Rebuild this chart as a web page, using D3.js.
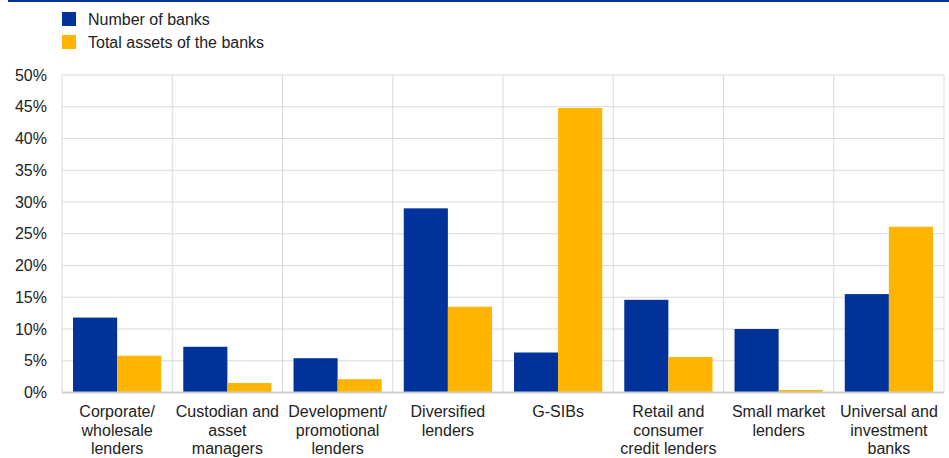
<!DOCTYPE html>
<html><head><meta charset="utf-8">
<script src="https://cdn.jsdelivr.net/npm/d3@7/dist/d3.min.js"></script>
<style>
body{margin:0;background:#fff;}
text{font-family:"Liberation Sans",Arial,sans-serif;fill:#222;}
</style></head>
<body><svg id="c" width="949" height="458"></svg>
<script>
const categories = [
  ["Corporate/","wholesale","lenders"],
  ["Custodian and","asset","managers"],
  ["Development/","promotional","lenders"],
  ["Diversified","lenders"],
  ["G-SIBs"],
  ["Retail and","consumer","credit lenders"],
  ["Small market","lenders"],
  ["Universal and","investment","banks"]
];
const seriesNames = ["Number of banks","Total assets of the banks"];
const numberOfBanks = [11.8, 7.2, 5.4, 29.0, 6.3, 14.6, 10.0, 15.5];
const totalAssets   = [5.8, 1.5, 2.1, 13.5, 44.8, 5.6, 0.4, 26.1];
const yTicks = [0,5,10,15,20,25,30,35,40,45,50];
const colors = ["#003299","#FFB400"];

const svg = d3.select("#c");
const m = {left:62, right:944, top:75, bottom:392.5};
const idx = categories.map((d,i)=>i);
const x = d3.scaleBand().domain(idx).range([m.left,m.right]).paddingInner(0).paddingOuter(0);
const x1 = d3.scaleBand().domain([0,1]).range([0,x.bandwidth()]).paddingInner(0).paddingOuter(0.25);
const y = d3.scaleLinear().domain([0,50]).range([m.bottom,m.top]);

// top rule
svg.append("rect").attr("x",8).attr("y",0).attr("width",941).attr("height",2).attr("fill","#003299");

// horizontal grid
svg.append("g").selectAll("line").data(yTicks.filter(t=>t>0)).join("line")
  .attr("x1",m.left).attr("x2",m.right)
  .attr("y1",d=>y(d)).attr("y2",d=>y(d))
  .attr("stroke","#d9d9d9").attr("stroke-width",1);
// vertical grid at category boundaries
const bounds = idx.map(i=>x(i)).concat([m.right]);
svg.append("g").selectAll("line").data(bounds).join("line")
  .attr("x1",d=>d).attr("x2",d=>d)
  .attr("y1",m.top).attr("y2",m.bottom)
  .attr("stroke","#d9d9d9").attr("stroke-width",1);

// bars
const data = [numberOfBanks,totalAssets];
data.forEach((vals,s)=>{
  svg.append("g").selectAll("rect").data(vals).join("rect")
    .attr("x",(d,i)=>x(i)+x1(s))
    .attr("width",x1.bandwidth())
    .attr("y",d=>y(d))
    .attr("height",d=>y(0)-y(d))
    .attr("fill",colors[s]);
});

// baseline
svg.append("line").attr("x1",m.left).attr("x2",m.right).attr("y1",y(0)).attr("y2",y(0))
  .attr("stroke","#d0d0d0").attr("stroke-width",2);

// y axis
const yAxis = d3.axisLeft(y).tickValues(yTicks).tickFormat(d=>d+"%").tickSize(0).tickPadding(0);
const ga = svg.append("g").attr("transform",`translate(${47},0)`).call(yAxis);
ga.select(".domain").remove();
ga.selectAll("text").style("font-size","16px").attr("fill","#222").style("font-family","Liberation Sans, Arial, sans-serif");

// x labels
const xl = svg.append("g");
categories.forEach((lines,i)=>{
  const t = xl.append("text").attr("text-anchor","middle")
    .attr("x",x(i)+x.bandwidth()/2).attr("y",417).style("font-size","16px");
  lines.forEach((l,j)=>t.append("tspan").attr("x",x(i)+x.bandwidth()/2).attr("dy",j?18.5:0).text(l));
});

// legend
const lg = svg.append("g");
seriesNames.forEach((n,i)=>{
  lg.append("rect").attr("x",62).attr("y",12+i*23).attr("width",14).attr("height",14).attr("fill",colors[i]);
  lg.append("text").attr("x",88).attr("y",24.5+i*23).style("font-size","16px").text(n);
});
</script></body></html>
